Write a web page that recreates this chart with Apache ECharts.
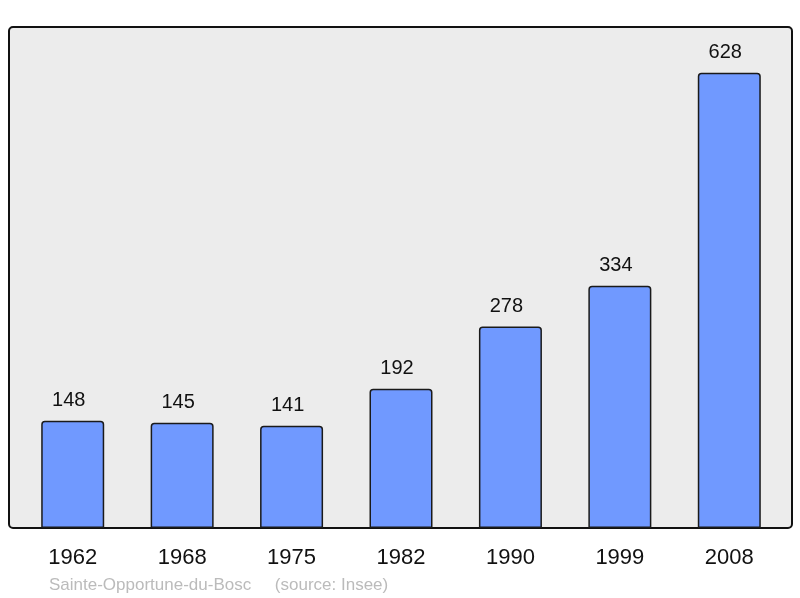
<!DOCTYPE html>
<html>
<head>
<meta charset="utf-8">
<script src="https://cdn.jsdelivr.net/npm/echarts@6/dist/echarts.min.js"></script>
<style>
  html, body { margin: 0; padding: 0; background: #fff; }
  #chart { width: 800px; height: 598px; }
</style>
</head>
<body>
<div id="chart"></div>
<script>
var years = ['1962', '1968', '1975', '1982', '1990', '1999', '2008'];
var population = [148, 145, 141, 192, 278, 334, 628];
var townName = 'Sainte-Opportune-du-Bosc';
var sourceText = '(source: Insee)';

var chart = echarts.init(document.getElementById('chart'));

var option = {
    animation: false,
    graphic: [
        {
            type: 'rect',
            z: -10,
            shape: { x: 9, y: 27, width: 783, height: 501, r: 4 },
            style: { fill: '#ececec', stroke: '#111', lineWidth: 2 }
        },
        {
            type: 'text',
            left: 49,
            top: 577,
            style: {
                text: townName + '     ' + sourceText,
                fill: '#bbbbbb',
                font: '17px "Liberation Sans", Arial, sans-serif'
            }
        }
    ],
    grid: {
        left: 18,
        right: 16,
        top: 27,
        bottom: 70
    },
    xAxis: {
        type: 'category',
        data: years,
        axisLine: { show: false },
        axisTick: { show: false },
        axisLabel: {
            margin: 19,
            fontSize: 22,
            color: '#111',
            fontFamily: '"Liberation Sans", Arial, sans-serif'
        }
    },
    yAxis: {
        type: 'value',
        min: 0,
        max: 691,
        show: false,
        splitLine: { show: false }
    },
    series: [
        {
            type: 'bar',
            data: population,
            barWidth: 63,
            itemStyle: {
                color: '#7099ff',
                borderColor: '#1a1a1a',
                borderWidth: 1.5,
                borderRadius: [3, 3, 0, 0]
            },
            label: {
                show: true,
                position: 'top',
                distance: 10,
                offset: [-4, 0],
                fontSize: 20,
                color: '#111',
                fontFamily: '"Liberation Sans", Arial, sans-serif'
            }
        }
    ]
};

chart.setOption(option);
</script>
</body>
</html>
